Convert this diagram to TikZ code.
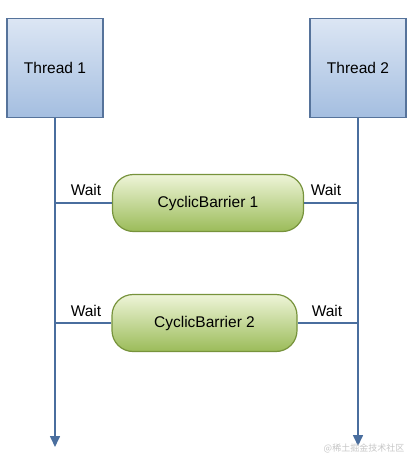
\documentclass[tikz,border=0pt]{standalone}
\usepackage{fontspec}
\setmainfont{Liberation Sans}
\newfontfamily\cjk{Noto Sans CJK SC}
\usetikzlibrary{arrows.meta,positioning}
\definecolor{lineblue}{HTML}{4A6E9E}
\definecolor{threadborder}{HTML}{56739B}
\definecolor{threadtop}{HTML}{DCE6F4}
\definecolor{threadbot}{HTML}{A4BEE0}
\definecolor{barrierborder}{HTML}{77933C}
\definecolor{barriertop}{HTML}{EEF5D8}
\definecolor{barrierbot}{HTML}{9BBB59}

\begin{document}
\begin{tikzpicture}[x=1pt,y=-1pt,
  thread/.style={draw=threadborder,line width=1.2pt,top color=threadtop,bottom color=threadbot,
    minimum width=96pt,minimum height=99pt,font=\fontsize{15.5}{18}\selectfont},
  barrier/.style={draw=barrierborder,line width=1.2pt,rounded corners=21pt,top color=barriertop,
    bottom color=barrierbot,minimum height=57pt,font=\fontsize{15.5}{18}\selectfont},
  wait/.style={font=\fontsize{15.5}{18}\selectfont,inner sep=0pt},
  life/.style={draw=lineblue,line width=1.6pt}]
\useasboundingbox (0,0) rectangle (415,465);
    % threads
    \node[thread] (thread1) at (55,68) {Thread 1};
    \node[thread] (thread2) at (358,68) {Thread 2};
    \coordinate (end1) at (55,447);
    \coordinate (end2) at (358,446);
    \draw[life,-{Triangle[width=10pt,length=11pt]}] (thread1) -- (end1);
    \draw[life,-{Triangle[width=10pt,length=11pt]}] (thread2) -- (end2);
    % barriers
    \node[barrier,minimum width=191pt] (barrier1) at (208,203) {CyclicBarrier 1};
    \node[barrier,minimum width=185pt] (barrier2) at (204.5,323) {CyclicBarrier 2};
    \draw[life] (barrier1.west) -- (barrier1.west -| thread1);
    \draw[life] (barrier1.east) -- (barrier1.east -| thread2);
    \draw[life] (barrier2.west) -- (barrier2.west -| thread1);
    \draw[life] (barrier2.east) -- (barrier2.east -| thread2);
    \node[wait] (wait1l) at (86,190) {Wait};
    \node[wait] (wait1r) at (326,190) {Wait};
    \node[wait] (wait2l) at (86,311) {Wait};
    \node[wait] (wait2r) at (327,311) {Wait};
    \node[text=gray!45,font=\cjk\fontsize{9}{11}\selectfont] (mark) at (364,448) {@稀土掘金技术社区};
\end{tikzpicture}
\end{document}
